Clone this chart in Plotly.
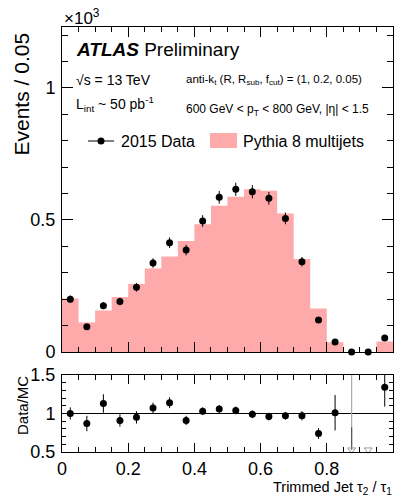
import plotly.graph_objects as go

# ---------------- data ----------------
bin_edges = [0.00, 0.05, 0.10, 0.15, 0.20, 0.25, 0.30, 0.35, 0.40, 0.45, 0.50,
             0.55, 0.60, 0.65, 0.70, 0.75, 0.80, 0.85, 0.90, 0.95, 1.00]
bin_centers = [0.025, 0.075, 0.125, 0.175, 0.225, 0.275, 0.325, 0.375, 0.425, 0.475,
               0.525, 0.575, 0.625, 0.675, 0.725, 0.775, 0.825, 0.875, 0.925, 0.975]

# Events / 0.05 in units of 10^3
data_vals = [0.200, 0.096, 0.175, 0.191, 0.245, 0.337, 0.414, 0.386, 0.496, 0.586,
             0.616, 0.607, 0.582, 0.506, 0.342, 0.121, 0.038, 0.000, 0.000, 0.053]
data_errs = [0.014, 0.010, 0.013, 0.014, 0.016, 0.018, 0.020, 0.020, 0.022, 0.024,
             0.025, 0.025, 0.024, 0.022, 0.018, 0.011, 0.006, 0.000, 0.000, 0.007]
mc_vals = [0.203, 0.112, 0.157, 0.208, 0.258, 0.316, 0.362, 0.420, 0.484, 0.554,
           0.588, 0.616, 0.611, 0.525, 0.352, 0.165, 0.037, 0.000, 0.000, 0.040]

ratio_vals = [1.00, 0.87, 1.13, 0.91, 0.95, 1.07, 1.14, 0.91, 1.03, 1.06,
              1.04, 0.99, 0.96, 0.97, 0.97, 0.74, 1.01, None, None, 1.34]
ratio_errs = [0.08, 0.10, 0.12, 0.08, 0.08, 0.07, 0.07, 0.06, 0.05, 0.05,
              0.05, 0.05, 0.05, 0.05, 0.06, 0.07, 0.23, 0.00, 0.00, 0.25]

# out-of-range ratio bins (drawn as arrows at the lower edge)
low_bins = [0.875, 0.925]
low_level = [0.53, 0.53]
low_err_long = [1.2, 0.0]     # long light error bar
low_err_short = [0.29, 0.0]   # short dark error bar

ratio_tickvals = [0.5, 1.0, 1.5]
ratio_ticktext = ["0.5", "1", "1.5"]

FONT = "Liberation Sans, Arial, Helvetica, sans-serif"
PINK = "#FFAAAA"

# ---------------- geometry (pixels) ----------------
W, H = 397, 498
ML, MR, MT, MB = 62, 4, 27, 46
PW, PH = W - ML - MR, H - MT - MB


def px(x):
    return (x - ML) / PW


def py(y):
    return (H - MB - y) / PH


main_bottom = py(352)
ratio_top = py(375)

fig = go.Figure()

# MC histogram as a filled step
step_x = bin_edges
step_y = mc_vals + [mc_vals[-1]]
fig.add_trace(go.Scatter(
    x=step_x, y=step_y, mode="lines", line=dict(width=0, shape="hv", color=PINK),
    fill="tozeroy", fillcolor=PINK, showlegend=False, hoverinfo="skip",
    xaxis="x", yaxis="y"))

# Data points
fig.add_trace(go.Scatter(
    x=bin_centers, y=data_vals, mode="markers",
    marker=dict(color="black", size=7),
    error_y=dict(type="data", array=data_errs, color="black", thickness=1, width=0),
    cliponaxis=False, showlegend=False, xaxis="x", yaxis="y"))

# Ratio: long light error bar for empty bins
fig.add_trace(go.Scatter(
    x=low_bins, y=low_level, mode="markers",
    marker=dict(color="rgba(0,0,0,0)", size=1),
    error_y=dict(type="data", array=low_err_long, arrayminus=[0, 0], color="#aaaaaa",
                 thickness=1.2, width=0),
    showlegend=False, xaxis="x2", yaxis="y2"))
fig.add_trace(go.Scatter(
    x=low_bins, y=low_level, mode="markers",
    marker=dict(color="rgba(0,0,0,0)", size=1),
    error_y=dict(type="data", array=low_err_short, arrayminus=[0, 0], color="#555555",
                 thickness=1.2, width=0),
    showlegend=False, xaxis="x2", yaxis="y2"))
fig.add_trace(go.Scatter(
    x=low_bins, y=low_level, mode="markers",
    marker=dict(symbol="triangle-down-open", color="#999999", size=7, line=dict(width=1)),
    cliponaxis=False, showlegend=False, xaxis="x2", yaxis="y2"))

# Ratio points
fig.add_trace(go.Scatter(
    x=bin_centers, y=ratio_vals, mode="markers",
    marker=dict(color="black", size=7),
    error_y=dict(type="data", array=ratio_errs, color="black", thickness=1, width=0),
    showlegend=False, xaxis="x2", yaxis="y2"))

axis_common = dict(
    showline=True, linecolor="black", linewidth=1, mirror="ticks",
    ticks="inside", tickcolor="black", tickwidth=1,
    showgrid=False, zeroline=False,
    tickfont=dict(family=FONT, size=18, color="black"),
)

fig.update_layout(
    width=W, height=H,
    margin=dict(l=ML, r=MR, t=MT, b=MB),
    paper_bgcolor="white", plot_bgcolor="white",
    font=dict(family=FONT, color="black"),
    showlegend=False,
    xaxis=dict(domain=[0, 1], range=[0, 1], anchor="y", showticklabels=False,
               tick0=0, dtick=0.2, ticklen=10,
               minor=dict(dtick=0.05, ticklen=5, ticks="inside", tickcolor="black", tickwidth=1),
               **axis_common),
    yaxis=dict(domain=[main_bottom, 1], range=[0, 1.231], anchor="x",
               tick0=0, dtick=0.5, ticklen=11, ticklabelstandoff=2,
               minor=dict(dtick=0.1, ticklen=6, ticks="inside", tickcolor="black", tickwidth=1),
               **axis_common),
    xaxis2=dict(domain=[0, 1], range=[0, 1], anchor="y2", matches="x",
                tick0=0, dtick=0.2, ticklen=9, ticklabelstandoff=0,
                minor=dict(dtick=0.05, ticklen=5, ticks="inside", tickcolor="black", tickwidth=1),
                **axis_common),
    yaxis2=dict(domain=[0, ratio_top], range=[0.5, 1.5], anchor="x2",
                tickvals=ratio_tickvals, ticktext=ratio_ticktext, ticklen=8,
                ticklabelstandoff=2,
                minor=dict(dtick=0.1, ticklen=4, ticks="inside", tickcolor="black", tickwidth=1),
                **axis_common),
)

# reference line at ratio = 1
fig.add_shape(type="line", xref="x2", yref="y2", x0=0, x1=1, y0=1, y1=1,
              line=dict(color="black", width=1), layer="below")

ann = []


def text(x, y, s, size, xanchor="left", yanchor="middle", angle=0):
    ann.append(dict(x=x, y=y, xref="paper", yref="paper", text=s, showarrow=False,
                    xanchor=xanchor, yanchor=yanchor, textangle=angle,
                    font=dict(family=FONT, size=size, color="black")))


text(px(62), py(17), "×10<sup>3</sup>", 17)
text(px(74), py(49), "<b><i>ATLAS</i></b> Preliminary", 19)
text(px(74), py(80), "√s = 13 TeV", 14)
text(px(74), py(104), "L<sub>int</sub> ~ 50 pb<sup>-1</sup>", 14)
text(px(184), py(80), "anti-k<sub>t</sub> (R, R<sub>sub</sub>, f<sub>cut</sub>) = (1, 0.2, 0.05)", 11.5)
text(px(184), py(110), "600 GeV &lt; p<sub>T</sub> &lt; 800 GeV, |η| &lt; 1.5", 12)
text(px(21), py(31), "Events / 0.05", 21, xanchor="center", yanchor="top", angle=-90)
text(px(22), py(406), "Data/MC", 15, xanchor="center", yanchor="middle", angle=-90)
text(px(394), py(488), "Trimmed Jet τ<sub>2</sub> / τ<sub>1</sub>", 14.5, xanchor="right")

# legend
text(px(119), py(141), "2015 Data", 16)
text(px(241), py(141), "Pythia 8 multijets", 16)
fig.update_layout(annotations=ann)

fig.add_shape(type="line", xref="paper", yref="paper", x0=px(88), x1=px(114),
              y0=py(141), y1=py(141), line=dict(color="black", width=1))
fig.add_shape(type="circle", xref="paper", yref="paper", x0=px(97.5), x1=px(104.5),
              y0=py(137.5), y1=py(144.5), fillcolor="black", line=dict(width=0))
fig.add_shape(type="rect", xref="paper", yref="paper", x0=px(210), x1=px(237),
              y0=py(133), y1=py(148), fillcolor=PINK, line=dict(width=0))

fig.write_html(
    "out.html",
    config={"displayModeBar": False},
    post_script="document.body.style.margin='0';document.body.style.overflow='hidden';",
)
